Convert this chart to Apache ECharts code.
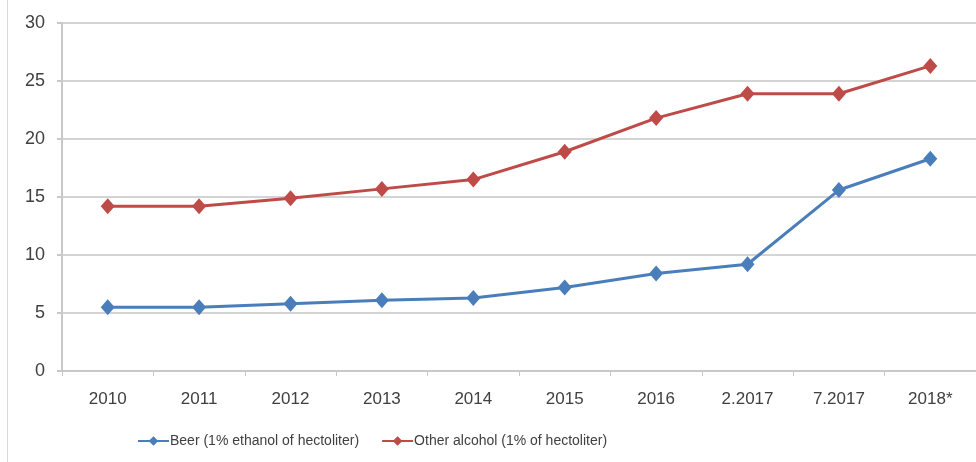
<!DOCTYPE html>
<html>
<head>
<meta charset="utf-8">
<script src="https://cdn.jsdelivr.net/npm/echarts@6/dist/echarts.min.js"></script>
<style>
  html, body { margin: 0; padding: 0; background: #ffffff; }
  #chart { width: 976px; height: 462px; }
</style>
</head>
<body>
<div id="chart"></div>
<script>
// Periods on the horizontal axis
const categories = ['2010', '2011', '2012', '2013', '2014', '2015', '2016', '2.2017', '7.2017', '2018*'];

// Tax values per series
const beer = [5.5, 5.5, 5.8, 6.1, 6.3, 7.2, 8.4, 9.2, 15.6, 18.3];
const otherAlcohol = [14.2, 14.2, 14.9, 15.7, 16.5, 18.9, 21.8, 23.9, 23.9, 26.3];

const seriesNames = ['Beer (1% ethanol of hectoliter)', 'Other alcohol (1% of hectoliter)'];

const yTicks = { min: 0, max: 30, interval: 5 };

const labelFont = '"Liberation Sans", Arial, sans-serif';

const chart = echarts.init(document.getElementById('chart'), null, { renderer: 'canvas' });

function lineSeries(name, data, color) {
  return {
    name: name,
    type: 'line',
    data: data,
    symbol: 'diamond',
    symbolSize: [14, 16],
    showAllSymbol: true,
    lineStyle: { color: color, width: 3 },
    itemStyle: { color: color },
    emphasis: { disabled: true },
    animation: false
  };
}

chart.setOption({
  backgroundColor: '#ffffff',
  animation: false,
  graphic: [{
    type: 'line',
    shape: { x1: 7.5, y1: 0, x2: 7.5, y2: 462 },
    style: { stroke: '#d9d9d9', lineWidth: 1 }
  }],
  grid: { left: 62, top: 23, width: 916, height: 348, containLabel: false },
  legend: {
    left: 132,
    top: 429,
    itemGap: 22,
    itemWidth: 31,
    itemHeight: 12,
    textStyle: { fontFamily: labelFont, fontSize: 14, color: '#404040', padding: [0, 0, 0, -4] },
    data: seriesNames
  },
  xAxis: {
    type: 'category',
    data: categories,
    boundaryGap: true,
    axisLine: { lineStyle: { color: '#c8c8c8', width: 2 } },
    axisTick: { show: true, length: 5, lineStyle: { color: '#c8c8c8', width: 1 } },
    axisLabel: { fontFamily: labelFont, fontSize: 17, color: '#404040', margin: 20 }
  },
  yAxis: {
    type: 'value',
    min: yTicks.min,
    max: yTicks.max,
    interval: yTicks.interval,
    axisLine: { show: true, lineStyle: { color: '#c8c8c8', width: 2 } },
    axisTick: { show: true, length: 5, lineStyle: { color: '#c8c8c8', width: 2 } },
    splitLine: { lineStyle: { color: '#d4d4d4', width: 2 } },
    axisLabel: { fontFamily: labelFont, fontSize: 18, color: '#404040', margin: 17 }
  },
  series: [
    lineSeries(seriesNames[0], beer, '#4A7EBB'),
    lineSeries(seriesNames[1], otherAlcohol, '#BE4B48')
  ]
});
</script>
</body>
</html>
